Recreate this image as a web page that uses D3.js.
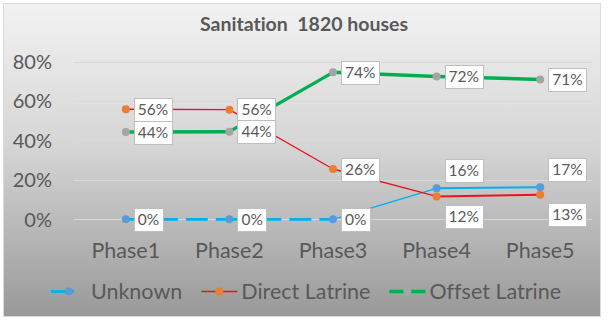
<!DOCTYPE html>
<html><head><meta charset="utf-8">
<script src="https://cdn.jsdelivr.net/npm/d3@7"></script>
<style>html,body{margin:0;padding:0;background:#fff;}svg{display:block;}text{font-variant-ligatures:none;}</style>
</head><body>
<svg id="chart" width="609" height="321"></svg>
<script>
// ---- data ----
const title = "Sanitation  1820 houses";
const phases = ["Phase1", "Phase2", "Phase3", "Phase4", "Phase5"];
const unknownValues = [0, 0, 0, 15.7, 16.3];
const directValues = [55.8, 55.6, 25.5, 11.6, 12.4];
const offsetValues = [44.2, 44.4, 74.5, 72.4, 70.9];
const unknownLabels = ["0%", "0%", "0%", "16%", "17%"];
const directLabels = ["56%", "56%", "26%", "12%", "13%"];
const offsetLabels = ["44%", "44%", "74%", "72%", "71%"];
const yTicks = [0, 20, 40, 60, 80];
const seriesNames = ["Unknown", "Direct Latrine", "Offset Latrine"];

// ---- styles ----
const styles = [
  {line: "#00b0f0", marker: "#5b9bd5", widths: [2.75, 2.75, 1.3, 2], dash: ["22,8", "22,8", null, null], labelPos: ["r","r","r","above","above"]},
  {line: "#e8141c", marker: "#ed7d31", widths: [1.3, 1.3, 1.3, 2], dash: [null,null,null,null], labelPos: ["r","r","r","below","below"]},
  {line: "#00b050", marker: "#a5a5a5", widths: [3.5, 3.2, 3.5, 3.5], dash: [null,null,null,null], labelPos: ["r","r","r","r","r"]}
];
const seriesVals = [unknownValues, directValues, offsetValues];
const seriesLabels = [unknownLabels, directLabels, offsetLabels];

const svg = d3.select("#chart");
const defs = svg.append("defs");
const grad = defs.append("linearGradient").attr("id", "bg").attr("x1", 0).attr("y1", 0).attr("x2", 0).attr("y2", 1);
grad.append("stop").attr("offset", "0%").attr("stop-color", "#f2f2f2");
grad.append("stop").attr("offset", "45%").attr("stop-color", "#d6d6d6");
grad.append("stop").attr("offset", "100%").attr("stop-color", "#999999");

svg.append("rect").attr("x", 3.5).attr("y", 3.5).attr("width", 597).attr("height", 313)
  .attr("fill", "url(#bg)").attr("stroke", "#d9d9d9").attr("stroke-width", 1);

const textColor = "#595959";
const font = "Lato, 'Open Sans', sans-serif";

svg.append("text").attr("x", 304).attr("y", 31).attr("text-anchor", "middle")
  .attr("font-family", font).attr("font-weight", "bold").attr("font-size", 19.5)
  .attr("fill", textColor).style("white-space", "pre").text(title);

const x = d3.scaleBand().domain(phases).range([74, 592]);
const y = d3.scaleLinear().domain([0, 80]).range([219.3, 61.5]);
const px = d => x(d) + x.bandwidth() / 2;

// gridlines
svg.append("g").selectAll("line").data(yTicks).join("line")
  .attr("x1", 74).attr("x2", 592).attr("y1", d => Math.round(y(d)) + 0.5).attr("y2", d => Math.round(y(d)) + 0.5)
  .attr("stroke", "#d9d9d9").attr("stroke-width", 1);

// y axis
const yAxis = d3.axisLeft(y).tickValues(yTicks).tickFormat(d => d + "%").tickSize(0).tickPadding(0);
const yg = svg.append("g").attr("transform", "translate(52,0)").call(yAxis);
yg.select(".domain").remove();
yg.selectAll("text").attr("font-family", font).attr("font-size", 20).attr("fill", textColor).attr("dy", "0.35em");

// x axis
const xAxis = d3.axisBottom(x).tickSize(0).tickPadding(0);
const xg = svg.append("g").attr("transform", "translate(0,258)").call(xAxis);
xg.select(".domain").remove();
xg.selectAll("text").attr("font-family", font).attr("font-size", 21.5).attr("fill", textColor).attr("dy", 0);

// lines
seriesVals.forEach((vals, si) => {
  const st = styles[si];
  const g = svg.append("g");
  for (let i = 0; i < vals.length - 1; i++) {
    g.append("line")
      .attr("x1", px(phases[i])).attr("y1", y(vals[i]))
      .attr("x2", px(phases[i + 1])).attr("y2", y(vals[i + 1]))
      .attr("stroke", st.line).attr("stroke-width", st.widths[i])
      .attr("stroke-dasharray", st.dash[i]);
  }
});
// markers
seriesVals.forEach((vals, si) => {
  svg.append("g").selectAll("circle").data(vals).join("circle")
    .attr("cx", (d, i) => px(phases[i])).attr("cy", d => y(d)).attr("r", 4)
    .attr("fill", styles[si].marker);
});
// labels
seriesVals.forEach((vals, si) => {
  vals.forEach((v, i) => {
    const cx = px(phases[i]), cy = y(v);
    const pos = styles[si].labelPos[i];
    let cyBox = cy;
    if (pos === "above") cyBox = cy - 18;
    if (pos === "below") cyBox = cy + 20;
    const g = svg.append("g");
    const rect = g.append("rect");
    const t = g.append("text").attr("font-family", font).attr("font-size", 15.5).attr("fill", textColor)
      .attr("x", cx + 8 + 4).attr("y", cyBox).attr("dy", "0.36em").text(seriesLabels[si][i]);
    const w = t.node().getComputedTextLength();
    rect.attr("x", Math.round(cx + 8) + 0.5).attr("y", Math.round(cyBox - 11.5) + 0.5)
      .attr("width", Math.round(w + 8)).attr("height", 23)
      .attr("fill", "#fff").attr("stroke", "#bfbfbf").attr("stroke-width", 1);
  });
});

// legend
const legend = svg.append("g");
const items = seriesNames.map((name, si) => {
  const g = legend.append("g");
  const t = g.append("text").attr("font-family", font).attr("font-size", 21.5).attr("fill", textColor)
    .attr("dy", "0.35em").text(name);
  return {g, t, w: t.node().getComputedTextLength()};
});
const symW = 36, gapT = 4, gapItem = 19;
const total = items.reduce((s, it) => s + symW + gapT + it.w, 0) + gapItem * (items.length - 1);
let cur = 306 - total / 2;
const ly = 291.5;
items.forEach((it, si) => {
  const st = styles[si];
  if (si === 0) {
    legend.append("line").attr("x1", cur).attr("x2", cur + 23).attr("y1", ly).attr("y2", ly)
      .attr("stroke", st.line).attr("stroke-width", 2.75);
  } else {
    legend.append("line").attr("x1", cur).attr("x2", cur + symW).attr("y1", ly).attr("y2", ly)
      .attr("stroke", st.line).attr("stroke-width", st.widths[0]);
  }
  legend.append("circle").attr("cx", cur + symW / 2).attr("cy", ly).attr("r", 4).attr("fill", st.marker);
  it.t.attr("x", cur + symW + gapT).attr("y", ly);
  cur += symW + gapT + it.w + gapItem;
});
</script>
</body></html>
